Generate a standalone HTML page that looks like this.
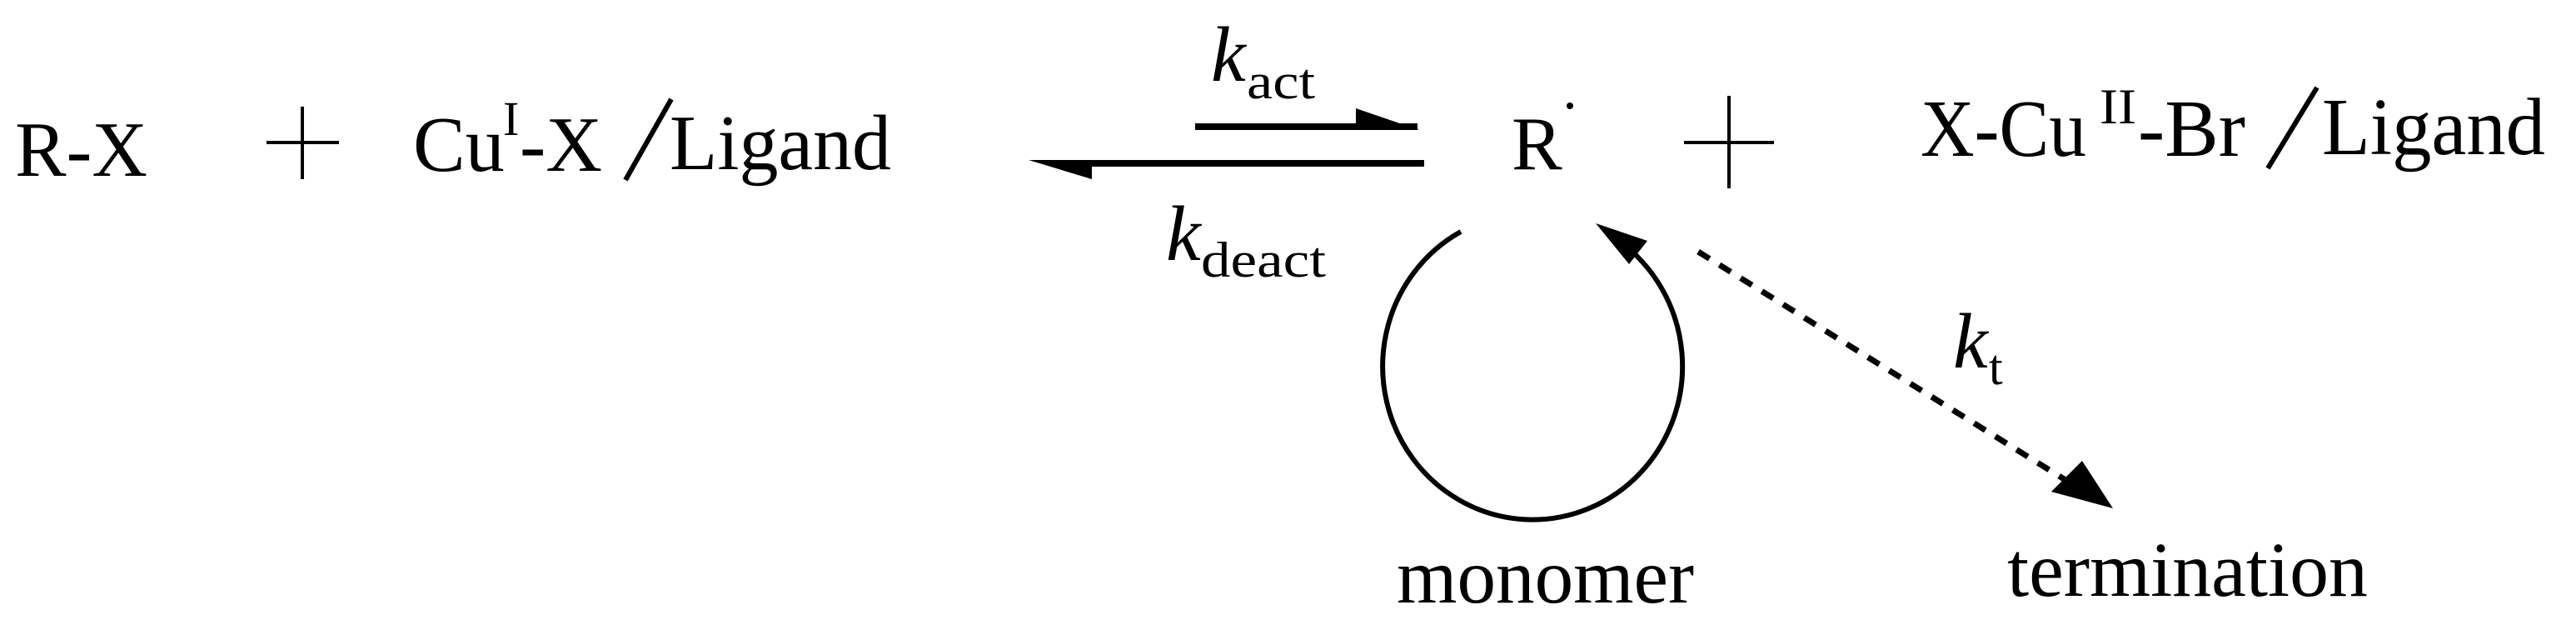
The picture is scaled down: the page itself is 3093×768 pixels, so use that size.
<!DOCTYPE html>
<html><head><meta charset="utf-8"><style>
html,body{margin:0;padding:0;background:#fff;width:3093px;height:768px;overflow:hidden}
svg{display:block}
text{font-family:"Liberation Serif","Times New Roman",serif;fill:#000}
</style></head><body>
<svg width="3093" height="768" viewBox="0 0 3093 768" xmlns="http://www.w3.org/2000/svg">
<!-- left side -->
<text x="18" y="211" font-size="94" textLength="159" lengthAdjust="spacingAndGlyphs">R-X</text>
<line x1="363" y1="128" x2="363" y2="215" stroke="#000" stroke-width="4"/>
<line x1="320" y1="171" x2="407" y2="171" stroke="#000" stroke-width="4"/>
<text x="496" y="205" font-size="94">Cu</text>
<text x="604" y="162" font-size="58">I</text>
<text x="624" y="205" font-size="94">-X</text>
<line x1="806" y1="119" x2="751" y2="216" stroke="#000" stroke-width="6"/>
<text x="804" y="203" font-size="94" textLength="266" lengthAdjust="spacingAndGlyphs">Ligand</text>

<!-- equilibrium arrows -->
<line x1="1435" y1="152" x2="1702" y2="152" stroke="#000" stroke-width="8"/>
<polygon points="1628,130 1704,156 1628,156" fill="#000"/>
<line x1="1300" y1="196" x2="1710" y2="196" stroke="#000" stroke-width="8"/>
<polygon points="1235,192 1311,192 1311,215" fill="#000"/>

<text x="1454" y="97" font-size="94" font-style="italic">k</text>
<text x="1497" y="118" font-size="60" textLength="82" lengthAdjust="spacingAndGlyphs">act</text>
<text x="1400" y="312" font-size="94" font-style="italic">k</text>
<text x="1442" y="332" font-size="60" textLength="150" lengthAdjust="spacingAndGlyphs">deact</text>

<!-- R radical -->
<text x="1815" y="203" font-size="91">R</text>
<circle cx="1885" cy="127" r="4" fill="#000"/>
<line x1="2076" y1="115" x2="2076" y2="226" stroke="#000" stroke-width="4"/>
<line x1="2022" y1="171" x2="2130" y2="171" stroke="#000" stroke-width="4"/>

<!-- right species -->
<text x="2306" y="187" font-size="97" textLength="199" lengthAdjust="spacingAndGlyphs">X-Cu</text>
<text x="2521" y="148" font-size="60" textLength="44" lengthAdjust="spacingAndGlyphs">II</text>
<text x="2567" y="187" font-size="97" textLength="129" lengthAdjust="spacingAndGlyphs">-Br</text>
<line x1="2782" y1="105" x2="2723" y2="202" stroke="#000" stroke-width="6"/>
<text x="2788" y="185" font-size="97" textLength="268" lengthAdjust="spacingAndGlyphs">Ligand</text>

<!-- monomer loop -->
<path d="M 1754 278 A 180 184 0 1 0 1945 290" fill="none" stroke="#000" stroke-width="6"/>
<polygon points="1916,268 1978,289 1956,317" fill="#000"/>

<!-- termination dashed -->
<line x1="2039" y1="302" x2="2480" y2="576" stroke="#000" stroke-width="7" stroke-dasharray="16,14"/>
<polygon points="2537,610 2463,590 2500,553" fill="#000"/>
<text x="2345" y="441" font-size="94" font-style="italic">k</text>
<text x="2388" y="461" font-size="60">t</text>

<text x="1677" y="723" font-size="93" textLength="357" lengthAdjust="spacingAndGlyphs">monomer</text>
<text x="2410" y="715" font-size="93" textLength="433" lengthAdjust="spacingAndGlyphs">termination</text>
</svg>
</body></html>
